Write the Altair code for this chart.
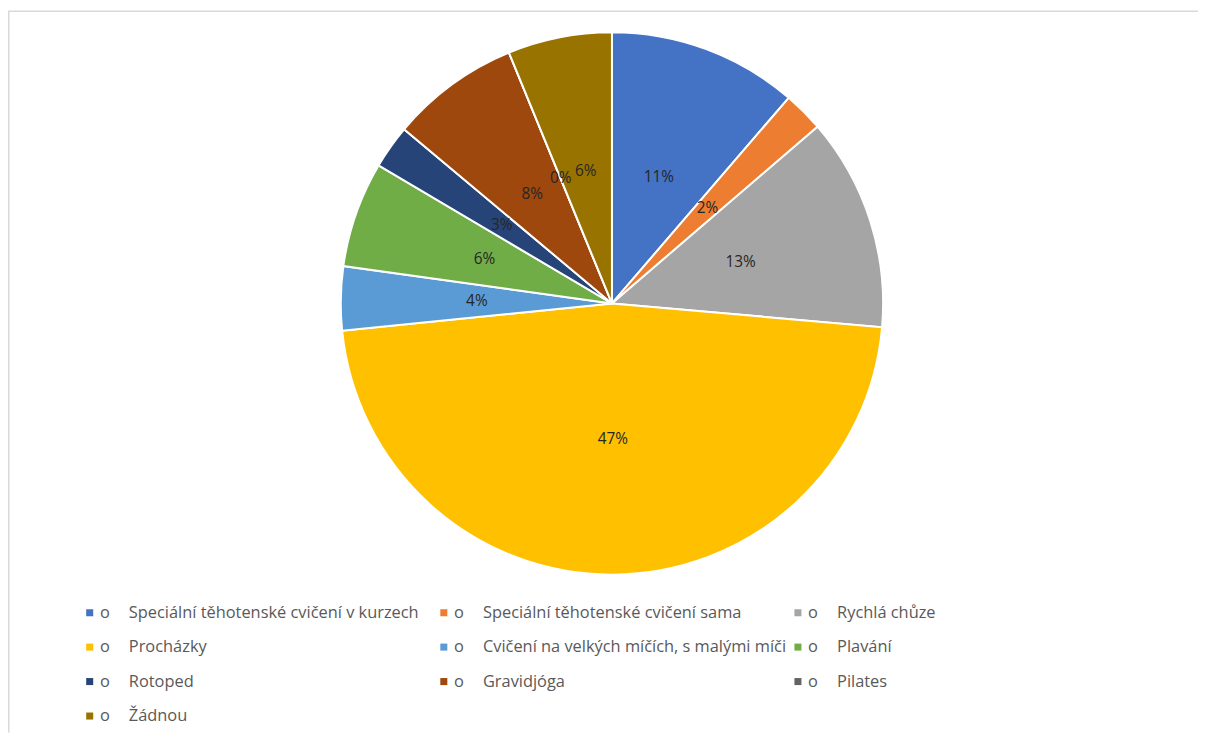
import altair as alt
import pandas as pd

categories = [
    "Speciální těhotenské cvičení v kurzech",
    "Speciální těhotenské cvičení sama",
    "Rychlá chůze",
    "Procházky",
    "Cvičení na velkých míčích, s malými míči",
    "Plavání",
    "Rotoped",
    "Gravidjóga",
    "Pilates",
    "Žádnou",
]
values = [11.3, 2.4, 12.7, 47.0, 3.8, 6.3, 2.6, 7.7, 0.0, 6.2]
colors = ["#4472C4", "#ED7D31", "#A5A5A5", "#FFC000", "#5B9BD5",
          "#70AD47", "#264478", "#9E480E", "#636363", "#997300"]

df = pd.DataFrame({"cat": categories, "value": values, "idx": list(range(len(categories)))})

FONT = "Open Sans"
CX, CY, R = 608, 295, 273

base = alt.Chart(df).transform_joinaggregate(
    total="sum(value)"
).transform_calculate(
    pct="datum.value / datum.total"
)

color = alt.Color(
    "cat:N",
    scale=alt.Scale(domain=categories, range=colors),
    sort=categories,
    legend=alt.Legend(
        title=None,
        orient="none",
        legendX=74,
        legendY=598,
        columns=3,
        direction="horizontal",
        gridAlign="all",
        symbolType="square",
        symbolSize=50,
        symbolStrokeWidth=0,
        labelFont=FONT,
        labelFontSize=16.5,
        labelColor="#595959",
        labelOffset=2,
        labelLimit=400,
        rowPadding=17.7,
        columnPadding=2.5,
        labelExpr="'o\u2003\u2009' + datum.label",
    ),
)

arcs = base.mark_arc(radius=R, stroke="white", strokeWidth=2).encode(
    theta=alt.Theta("value:Q", stack=True),
    color=color,
    order=alt.Order("idx:Q"),
    x=alt.value(CX),
    y=alt.value(CY),
)

labels = base.mark_text(radius=136, font=FONT, fontSize=15.5, color="#262626").encode(
    theta=alt.Theta("value:Q", stack=True),
    order=alt.Order("idx:Q"),
    text=alt.Text("pct:Q", format=".0%"),
    x=alt.value(CX),
    y=alt.value(CY),
)

frame_df = pd.DataFrame({"a": [0]})
top_line = alt.Chart(frame_df).mark_rule(color="#D9D9D9", strokeWidth=1.5).encode(
    x=alt.value(0), x2=alt.value(1198), y=alt.value(0.75)
)
left_line = alt.Chart(frame_df).mark_rule(color="#D9D9D9", strokeWidth=1.5).encode(
    x=alt.value(0.75), y=alt.value(0.75), y2=alt.value(727)
)

chart = alt.layer(top_line, left_line, arcs, labels).properties(
    width=1198,
    height=727,
    autosize=alt.AutoSizeParams(type="none"),
    padding=0,
).configure_view(stroke=None)

chart.save("out.html", embed_options={"renderer": "svg", "actions": False})
